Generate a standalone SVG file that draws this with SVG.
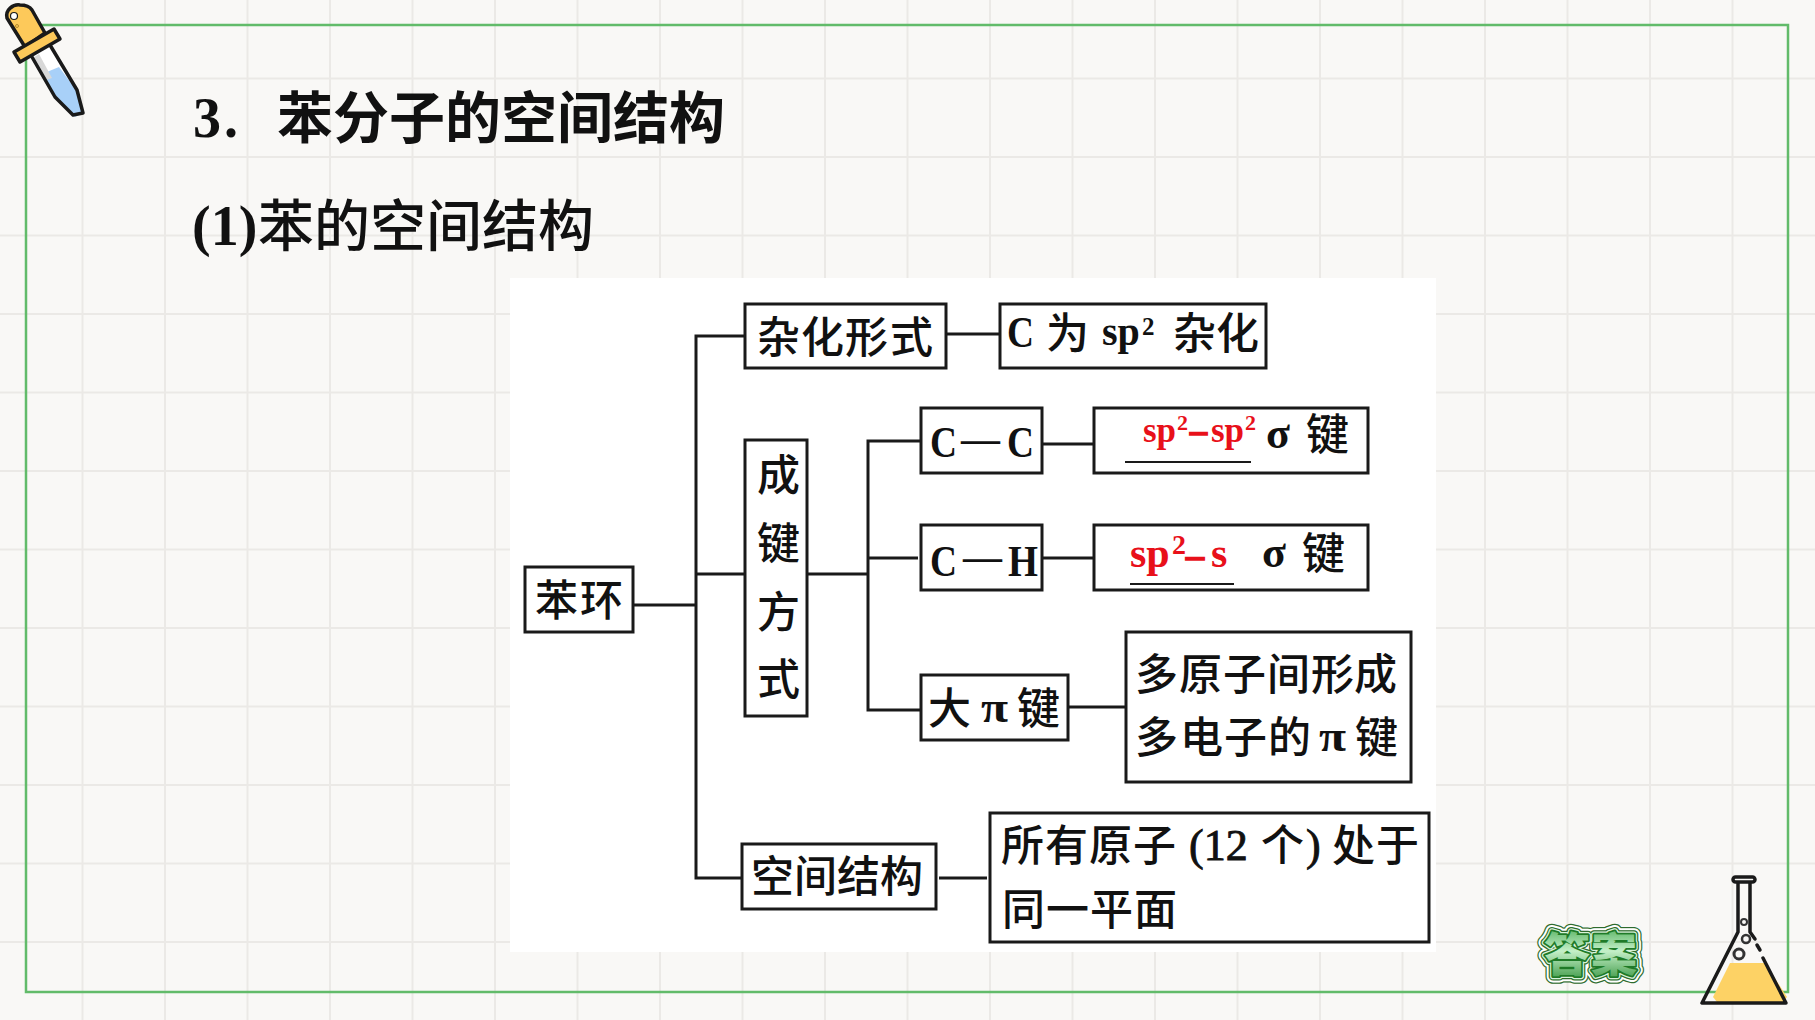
<svg xmlns="http://www.w3.org/2000/svg" xmlns:xlink="http://www.w3.org/1999/xlink" width="1815" height="1020" viewBox="0 0 1815 1020">
<style>
.cjk{font-family:"Noto Sans CJK SC","Noto Sans",sans-serif;font-size:43px;font-weight:500;fill:#111}
.lat{font-family:"Liberation Serif",serif;font-weight:700;font-size:44px;fill:#111}
.mid{font-weight:400;stroke:#111;stroke-width:0.9}
.red{fill:#e8101a}
.dash{stroke:#e8101a;stroke-width:1.6}
.box{fill:#fff;stroke:#1a1a1a;stroke-width:3}
.wire{fill:none;stroke:#1a1a1a;stroke-width:3}
.grid{stroke:#ebe9e6;stroke-width:2;fill:none}
.tool{stroke:#1a1a1a;stroke-width:3.5;stroke-linejoin:round;stroke-linecap:round}
.badge{font-family:"Noto Sans CJK SC",sans-serif;font-weight:900;font-size:46px;stroke-linejoin:round}
</style>
<defs>
<linearGradient id="badgeFill" x1="0" y1="0" x2="0" y2="1">
<stop offset="0" stop-color="#2f9a3c"/><stop offset="0.5" stop-color="#c4f0c8"/><stop offset="1" stop-color="#2f8f38"/>
</linearGradient>
<text id="badgeText" class="badge" x="1544 1591" y="971">答案</text>
</defs>

<!-- page background and squared paper -->
<rect width="1815" height="1020" fill="#f9f8f6"/>
<path class="grid" d="M82.500 0V1020M165 0V1020M247.500 0V1020M330 0V1020M412.500 0V1020M495 0V1020M577.500 0V1020M660 0V1020M742.500 0V1020M825 0V1020M907.500 0V1020M990 0V1020M1072.500 0V1020M1155 0V1020M1237.500 0V1020M1320 0V1020M1402.500 0V1020M1485 0V1020M1567.500 0V1020M1650 0V1020M1732.500 0V1020M0 78.500H1815M0 157H1815M0 235.500H1815M0 314H1815M0 392.500H1815M0 471H1815M0 549.500H1815M0 628H1815M0 706.500H1815M0 785H1815M0 863.500H1815M0 942H1815"/>
<rect x="26" y="25" width="1762" height="967" fill="none" stroke="#62bb6a" stroke-width="2.500"/>

<!-- headings -->
<g id="headings">
<text class="lat" style="font-size:56px" x="193" y="137">3</text>
<text class="lat" style="font-size:56px" x="224" y="137">.</text>
<text class="cjk" style="font-size:56px;font-weight:700" x="277" y="138">苯分子的空间结构</text>
<text class="lat" style="font-size:56px" x="192" y="245">(1)</text>
<text class="cjk" style="font-size:56px;font-weight:500" x="258" y="246">苯的空间结构</text>
</g>

<rect id="panel" x="510" y="278" width="926" height="674" fill="#fff"/>

<!-- connectors -->
<g id="connectors">
<path class="wire" d="M745 336H696V878H742"/>
<path class="wire" d="M633 605H696"/>
<path class="wire" d="M696 574H745"/>
<path class="wire" d="M807 574H868"/>
<path class="wire" d="M921 441H868V710H921"/>
<path class="wire" d="M868 558H918"/>
<path class="wire" d="M946 334H1000"/>
<path class="wire" d="M1042 444H1094"/>
<path class="wire" d="M1042 558H1094"/>
<path class="wire" d="M1069 707H1126"/>
<path class="wire" d="M939 878H987"/>
</g>

<g id="node-benhuan">
<rect class="box" x="525" y="567" width="108" height="65"/>
<text class="cjk" x="535 580" y="616">苯环</text>
</g>
<g id="node-hybrid">
<rect class="box" x="745" y="304" width="201" height="64"/>
<text class="cjk" x="757 801 845 890" y="353">杂化形式</text>
</g>
<g id="node-hybrid-value">
<rect class="box" x="1000" y="304" width="266" height="64"/>
<text class="lat" x="1007" y="347" textLength="27" lengthAdjust="spacingAndGlyphs">C</text>
<text class="cjk" x="1046" y="349">为</text>
<text class="lat" style="font-size:40px" x="1102" y="345">sp</text>
<text class="lat" style="font-size:25px" x="1142" y="335">2</text>
<text class="cjk" x="1173 1216" y="349">杂化</text>
</g>
<g id="node-bonding">
<rect class="box" x="745" y="440" width="62" height="276"/>
<text class="cjk" x="757" y="491">成</text>
<text class="cjk" x="757" y="559">键</text>
<text class="cjk" x="757" y="628">方</text>
<text class="cjk" x="757" y="695">式</text>
</g>
<g id="node-cc">
<rect class="box" x="921" y="408" width="121" height="65"/>
<text class="lat" x="930" y="457" textLength="27" lengthAdjust="spacingAndGlyphs">C</text>
<text class="lat" style="font-size:39px" x="961" y="452">—</text>
<text class="lat" x="1007" y="457" textLength="27" lengthAdjust="spacingAndGlyphs">C</text>
</g>
<g id="node-cc-value">
<rect class="box" x="1094" y="408" width="274" height="65"/>
<text class="lat red" style="font-size:35px" x="1143" y="442">sp</text>
<text class="lat red" style="font-size:22px" x="1177" y="430">2</text>
<text class="lat red dash" style="font-size:34px" x="1190" y="442">–</text>
<text class="lat red" style="font-size:35px" x="1211" y="442">sp</text>
<text class="lat red" style="font-size:22px" x="1245" y="430">2</text>
<line x1="1125" y1="462" x2="1251" y2="462" stroke="#1a1a1a" stroke-width="2"/>
<text class="lat" x="1266" y="448">σ</text>
<text class="cjk" x="1306" y="450">键</text>
</g>
<g id="node-ch">
<rect class="box" x="921" y="525" width="121" height="65"/>
<text class="lat" x="930" y="576" textLength="27" lengthAdjust="spacingAndGlyphs">C</text>
<text class="lat" style="font-size:39px" x="963" y="570">—</text>
<text class="lat" x="1008" y="576" textLength="30" lengthAdjust="spacingAndGlyphs">H</text>
</g>
<g id="node-ch-value">
<rect class="box" x="1094" y="525" width="274" height="65"/>
<text class="lat red" style="font-size:42px" x="1130" y="567">sp</text>
<text class="lat red" style="font-size:28px" x="1172" y="554">2</text>
<text class="lat red dash" style="font-size:36px" x="1186" y="567">–</text>
<text class="lat red" style="font-size:42px" x="1211" y="567">s</text>
<line x1="1130" y1="584" x2="1234" y2="584" stroke="#1a1a1a" stroke-width="2"/>
<text class="lat" x="1262" y="567">σ</text>
<text class="cjk" x="1302" y="569">键</text>
</g>
<g id="node-pi">
<rect class="box" x="921" y="675" width="147" height="65"/>
<text class="cjk" x="928" y="724">大</text>
<text class="lat" x="981" y="722" textLength="27" lengthAdjust="spacingAndGlyphs">π</text>
<text class="cjk" x="1017" y="724">键</text>
</g>
<g id="node-pi-value">
<rect class="box" x="1126" y="632" width="285" height="150"/>
<text class="cjk" x="1135 1179 1223 1267 1311 1354" y="690">多原子间形成</text>
<text class="cjk" x="1135 1180 1224 1268" y="753">多电子的</text>
<text class="lat" x="1319" y="751" textLength="27" lengthAdjust="spacingAndGlyphs">π</text>
<text class="cjk" x="1355" y="753">键</text>
</g>
<g id="node-geometry">
<rect class="box" x="742" y="844" width="194" height="65"/>
<text class="cjk" x="751 794 837 880" y="892">空间结构</text>
</g>
<g id="node-geometry-value">
<rect class="box" x="990" y="813" width="439" height="129"/>
<text class="cjk" x="1001 1045 1089 1133" y="861">所有原子</text>
<text class="lat mid" x="1189" y="860">(12</text>
<text class="cjk" x="1261" y="861">个</text>
<text class="lat mid" x="1306" y="860">)</text>
<text class="cjk" x="1332 1376" y="861">处于</text>
<text class="cjk" x="1002 1046 1090 1134" y="925">同一平面</text>
</g>

<!-- dropper in the top left corner -->
<g id="dropper">
<path d="M32 57L50 45L77 90L83 113L73 115L55 97Z" fill="#fff"/>
<path d="M42 74L59 67L77 91L83 113L75 117L55 97Z" fill="#a8d0f8"/>
<path d="M33 58L39 54L52 78L46 80Z" fill="#d8d8d8"/>
<path class="tool" d="M32 57L55 97L73 115L83 113L77 90L50 45" fill="none"/>
<path class="tool" d="M25 47L7 18C5 10 13 4 20 5C26 5 30 7 32 10L45 33Z" fill="#fdc95a"/>
<path class="tool" d="M54 29L60 39L20 62L14 52Z" fill="#fdc95a"/>
<circle cx="14" cy="16" r="3.500" fill="#fff" stroke="#1a1a1a" stroke-width="1.200"/>
<circle cx="17" cy="26" r="1.500" fill="none" stroke="#b58a2a" stroke-width="1"/>
</g>

<!-- answer badge -->
<g id="answer-badge">
<use href="#badgeText" fill="none" stroke="#2e6b2e" stroke-width="15"/>
<use href="#badgeText" fill="none" stroke="#fff" stroke-width="12.500"/>
<use href="#badgeText" fill="none" stroke="#2e6b2e" stroke-width="8.500"/>
<use href="#badgeText" fill="none" stroke="#d8f3da" stroke-width="6"/>
<use href="#badgeText" fill="none" stroke="#1f7a28" stroke-width="3.500"/>
<use href="#badgeText" fill="url(#badgeFill)"/>
</g>

<!-- flask in the bottom right corner -->
<g id="flask">
<path d="M1730 963H1765L1787 997L1783 1002H1717L1713 997Z" fill="#fdd265"/>
<path class="tool" d="M1738 880V932L1702 1003H1786L1763 958" fill="none"/>
<path class="tool" d="M1750 880V932L1755 939" fill="none"/>
<path class="tool" d="M1757 945L1760 950" fill="none"/>
<rect class="tool" x="1733" y="877" width="22" height="5" rx="2.500" fill="#f9f8f6"/>
<circle cx="1744" cy="922" r="3" fill="none" stroke="#333" stroke-width="2"/>
<circle cx="1746" cy="939" r="4" fill="none" stroke="#333" stroke-width="2.500"/>
<circle cx="1739" cy="954" r="5" fill="none" stroke="#333" stroke-width="3"/>
</g>
</svg>
